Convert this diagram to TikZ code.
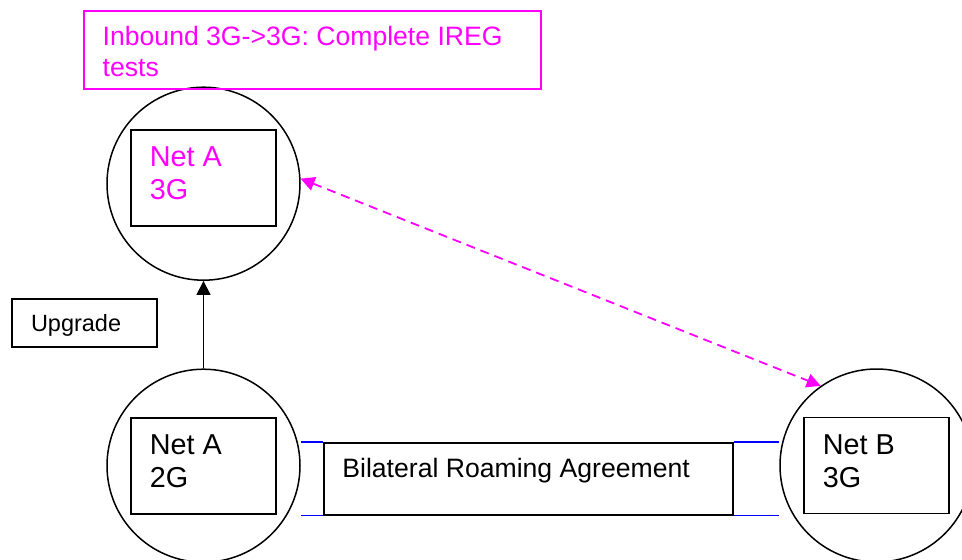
\documentclass[tikz,border=0pt]{standalone}
\usepackage{fontspec}
\setmainfont{Liberation Sans}
\usetikzlibrary{arrows.meta}
\definecolor{iregpink}{RGB}{255,0,255}
\newcommand{\NetSize}{193pt}
\tikzset{
  net/.style={circle,draw,line width=1.5pt,minimum size=\NetSize,inner sep=0pt},
  netbox/.style={draw,line width=1.8pt,minimum width=145pt,minimum height=96pt,inner sep=0pt},
  nettext/.style={anchor=base west,align=left,inner sep=0pt,font=\fontsize{28.8}{32.7}\selectfont},
  plainbox/.style={draw,line width=1.8pt,inner sep=0pt,anchor=north west},
  plaintext/.style={anchor=base west,align=left,inner sep=0pt,font=\fontsize{26.6}{31}\selectfont},
  uparrow/.style={line width=1.6pt,-{Triangle[length=14pt,width=14pt]}},
  iregarrow/.style={iregpink,line width=1.8pt,dash pattern=on 9pt off 6pt,
    {Triangle[length=14pt,width=14pt]}-{Triangle[length=14pt,width=14pt]}},
  agreeline/.style={blue,line width=1.6pt},
}

\begin{document}
\begin{tikzpicture}[x=1pt,y=-1pt]
		\useasboundingbox (0,0) rectangle (962,560);
		\coordinate (P) at (203.5,183.7);% top circle
		\coordinate (Q) at (203.5,465.7);% bottom left circle
		\coordinate (R) at (876.5,465.5);% right circle

		\node[net] (netAthree) at (P) {};
		\node[net] (netAtwo) at (Q) {};
		\node[net] (netBthree) at (R) {};

		\node[netbox,yshift=6pt] (boxAthree) at (P) {};
		\node[netbox] (boxAtwo) at (Q) {};
		\node[netbox] (boxBthree) at (R) {};
		% base of a two line node is its last line
		\node[nettext,iregpink] (txtAthree) at ([shift={(19.5,70.7)}]boxAthree.north west) {Net A\\3G};
		\node[nettext] (txtAtwo) at ([shift={(19.5,70.7)}]boxAtwo.north west) {Net A\\2G};
		\node[nettext] (txtBthree) at ([shift={(19.5,70.7)}]boxBthree.north west) {Net B\\3G};

		\node[plainbox,draw=iregpink,line width=2pt,minimum width=457pt,minimum height=77.7pt] (ireg) at (83.3,10) {};
		\node[plaintext,iregpink] (iregtxt) at ([shift={(19.2,66)}]ireg.north west) {Inbound 3G->3G: Complete IREG\\tests};

		\node[plainbox,minimum width=145pt,minimum height=48.3pt] (upg) at (11,297.7) {};
		\node[plaintext,font=\fontsize{23.5}{27}\selectfont] (upgtxt) at ([shift={(19.8,33.3)}]upg.north west) {Upgrade};

		\node[plainbox,minimum width=408.7pt,minimum height=72pt] (bra) at (323.3,441.7) {};
		\node[plaintext] (bratxt) at ([shift={(18.9,35.6)}]bra.north west) {Bilateral Roaming Agreement};

		\draw[agreeline] (bra.north west) -- (bra.north west -| netAtwo.east);% top left
		\draw[agreeline] (bra.south west) -- (bra.south west -| netAtwo.east);% bottom left
		\draw[agreeline] (bra.north east) -- (bra.north east -| netBthree.west);% top right
		\draw[agreeline] (bra.south east) -- (bra.south east -| netBthree.west);% bottom right

		\draw[uparrow] (netAtwo.north) -- (netAthree.south);% upgrade
		\draw[iregarrow] (netAthree.3) -- (netBthree.125);% IREG tests
	\end{tikzpicture}
\end{document}
